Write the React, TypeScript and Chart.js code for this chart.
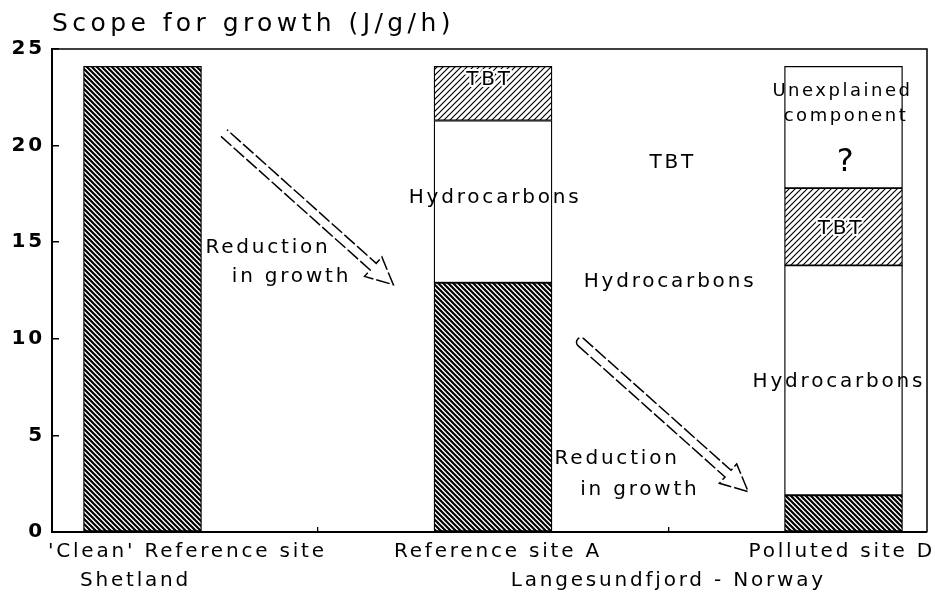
import React, { useEffect, useRef } from 'react';
import { Chart, registerables } from 'chart.js';

Chart.register(...registerables);

// ---- data ----
const categories = ["'Clean' Reference site", 'Reference site A', 'Polluted site D'];
const categoryX = [0, 1, 2];
const remainingGrowth = [24.1, 12.9, 1.9];
const hydrocarbons = [null, 8.4, 11.9];
const tbt = [null, 2.8, 4.0];
const unexplained = [null, null, 6.3];

const yMin = 0;
const yMax = 25;
const yStep = 5;

const xTickValues = [-0.02, 0.128, 0.5, 1.014, 1.5, 1.995];
const xTickLabels: (string | string[])[] = [
  ['', 'Shetland'],
  "'Clean' Reference site",
  '',
  'Reference site A',
  ['', 'Langesundfjord - Norway'],
  'Polluted site D',
];
const xTickMarks = [0.5, 1.5];

const titleText = 'Scope for growth (J/g/h)';

// annotation texts placed in data coordinates
const noteTexts = [
  'TBT', 'Hydrocarbons', 'TBT', 'Hydrocarbons', 'Unexplained', 'component', '?',
  'TBT', 'Hydrocarbons', 'Reduction', 'in growth', 'Reduction', 'in growth',
];
const noteX = [0.99, 1.006, 1.513, 1.505, 1.997, 2.007, 2.011, 1.993, 1.987, 0.358, 0.425, 1.354, 1.419];
const noteY = [23.4, 17.3, 19.1, 12.97, 22.8, 21.5, 19.1, 15.7, 7.8, 14.73, 13.2, 3.8, 2.18];
const noteSize = [20, 20, 20, 20, 18, 18, 32, 20, 20, 20, 20, 20, 20];
const noteKnockout = [true, false, false, false, false, false, false, true, false, false, false, false, false];

// arrows: start (x,y) -> tip (x,y) in data coordinates
const arrowStartX = [0.2325, 1.251];
const arrowStartY = [20.65, 9.82];
const arrowEndX = [0.7156, 1.728];
const arrowEndY = [12.8, 2.09];
const arrowClosedStart = [false, true];

const FONT = '"DejaVu Sans", "Liberation Sans", Arial, sans-serif';

function makeHatch(size: number, lw: number, dir: 'back' | 'fwd') {
  const c = document.createElement('canvas');
  c.width = size;
  c.height = size;
  const g = c.getContext('2d')!;
  g.fillStyle = '#fff';
  g.fillRect(0, 0, size, size);
  g.strokeStyle = '#000';
  g.lineWidth = lw;
  g.beginPath();
  for (const o of [-size, 0, size]) {
    if (dir === 'back') {
      g.moveTo(o - 1, -1);
      g.lineTo(o + size + 1, size + 1);
    } else {
      g.moveTo(o - 1, size + 1);
      g.lineTo(o + size + 1, -1);
    }
  }
  g.stroke();
  return g.createPattern(c, 'repeat')!;
}

function patchSpacing(ctx: any) {
  const sizeOf = () => {
    const m = /(\d+(?:\.\d+)?)px/.exec(ctx.font);
    return m ? parseFloat(m[1]) : 12;
  };
  ['fillText', 'strokeText', 'measureText'].forEach((name) => {
    const orig = ctx[name].bind(ctx);
    ctx[name] = (...args: any[]) => {
      const prev = ctx.letterSpacing;
      const s = sizeOf();
      const em = s >= 24 && s < 30 ? 0.177 : 0.14;
      ctx.letterSpacing = (s * em).toFixed(2) + 'px';
      try {
        return orig(...args);
      } finally {
        ctx.letterSpacing = prev;
      }
    };
  });
}

function drawArrow(ctx: CanvasRenderingContext2D, x0: number, y0: number, x1: number, y1: number, closed: boolean) {
  const dx = x1 - x0;
  const dy = y1 - y0;
  const len = Math.hypot(dx, dy);
  const ux = dx / len;
  const uy = dy / len;
  const nx = -uy;
  const ny = ux;
  const w = 4.5;
  const hw = 13;
  const hl = 27;
  const bx = x1 - ux * hl;
  const by = y1 - uy * hl;
  ctx.beginPath();
  ctx.moveTo(x0 + nx * w, y0 + ny * w);
  ctx.lineTo(bx + nx * w, by + ny * w);
  ctx.lineTo(bx + nx * hw, by + ny * hw);
  ctx.lineTo(x1, y1);
  ctx.lineTo(bx - nx * hw, by - ny * hw);
  ctx.lineTo(bx - nx * w, by - ny * w);
  ctx.lineTo(x0 - nx * w, y0 - ny * w);
  if (closed) {
    const a = Math.atan2(-ny, -nx);
    ctx.arc(x0, y0, w, a, a - Math.PI, true);
  }
  ctx.stroke();
}

const overlayPlugin = {
  id: 'overlay',
  afterDatasetsDraw(chart: any) {
    const { ctx, scales, chartArea } = chart;
    const xs = scales.x;
    const ys = scales.y;
    ctx.save();
    // frame top & right
    ctx.strokeStyle = '#000';
    ctx.lineWidth = 1.5;
    ctx.beginPath();
    ctx.moveTo(chartArea.left, chartArea.top);
    ctx.lineTo(chartArea.right, chartArea.top);
    ctx.lineTo(chartArea.right, chartArea.bottom);
    ctx.stroke();

    // arrows
    ctx.lineWidth = 1.5;
    ctx.setLineDash([14, 3]);
    for (let i = 0; i < arrowStartX.length; i++) {
      drawArrow(
        ctx,
        xs.getPixelForValue(arrowStartX[i]),
        ys.getPixelForValue(arrowStartY[i]),
        xs.getPixelForValue(arrowEndX[i]),
        ys.getPixelForValue(arrowEndY[i]),
        arrowClosedStart[i]
      );
    }
    ctx.setLineDash([]);

    // texts
    ctx.textAlign = 'center';
    ctx.textBaseline = 'middle';
    for (let i = 0; i < noteTexts.length; i++) {
      ctx.font = `${noteSize[i]}px ${FONT}`;
      const px = xs.getPixelForValue(noteX[i]);
      const py = ys.getPixelForValue(noteY[i]);
      if (noteKnockout[i]) {
        ctx.strokeStyle = '#fff';
        ctx.lineWidth = 4;
        ctx.lineJoin = 'round';
        ctx.strokeText(noteTexts[i], px, py);
      }
      ctx.fillStyle = '#000';
      ctx.fillText(noteTexts[i], px, py);
    }
    ctx.restore();
  },
};

export default function App() {
  const ref = useRef<HTMLCanvasElement | null>(null);

  useEffect(() => {
    document.body.style.margin = '0';
    const canvas = ref.current!;
    const ctx = canvas.getContext('2d')!;
    patchSpacing(ctx);

    const darkHatch = makeHatch(5, 2.2, 'back');
    const lightHatch = makeHatch(6, 1.2, 'fwd');

    const toPoints = (arr: (number | null)[]) => categoryX.map((x, i) => ({ x, y: arr[i] }));

    const common = {
      borderColor: '#000',
      borderWidth: 1.3,
      borderSkipped: false,
      barThickness: 118,
    };

    const chart = new Chart(ctx, {
      type: 'bar',
      data: {
        labels: categories,
        datasets: [
          { label: 'Remaining growth', data: toPoints(remainingGrowth) as any, backgroundColor: darkHatch as any, ...common },
          { label: 'Hydrocarbons', data: toPoints(hydrocarbons) as any, backgroundColor: '#fff', ...common },
          { label: 'TBT', data: toPoints(tbt) as any, backgroundColor: lightHatch as any, ...common },
          { label: 'Unexplained component', data: toPoints(unexplained) as any, backgroundColor: '#fff', ...common },
        ] as any,
      },
      options: {
        animation: false,
        responsive: false,
        devicePixelRatio: 1,
        layout: { padding: { left: 0, right: 8, top: 0, bottom: 0 } },
        plugins: {
          legend: { display: false },
          tooltip: { enabled: false },
          title: {
            display: true,
            text: titleText,
            align: 'start',
            fullSize: false,
            color: '#000',
            font: { family: FONT, size: 25, weight: 'normal' as any, lineHeight: 1.2 },
            padding: { top: 9, bottom: 10 },
          },
        },
        scales: {
          x: {
            type: 'linear',
            stacked: true,
            min: -0.2582,
            max: 2.2382,
            offset: false,
            afterBuildTicks: (s: any) => {
              s.ticks = xTickValues.map((v) => ({ value: v }));
            },
            afterFit: (s: any) => {
              s.paddingLeft = 0;
              s.paddingRight = 0;
            },
            ticks: {
              autoSkip: false,
              maxRotation: 0,
              minRotation: 0,
              padding: 10.5,
              color: '#000',
              font: { family: FONT, size: 20, lineHeight: 1.45 },
              callback: (_v: any, i: number) => xTickLabels[i] as any,
            },
            grid: {
              offset: false,
              drawOnChartArea: false,
              drawTicks: true,
              tickLength: -5,
              lineWidth: 1.3,
              tickColor: (c: any) =>
                c.tick && xTickMarks.includes(c.tick.value) ? '#000' : 'rgba(0,0,0,0)',
            },
            border: { display: true, color: '#000', width: 2 },
          } as any,
          y: {
            stacked: true,
            min: yMin,
            max: yMax,
            afterFit: (s: any) => {
              s.width = 52;
              s.paddingTop = 0;
              s.paddingBottom = 0;
            },
            ticks: {
              stepSize: yStep,
              padding: 14,
              color: '#000',
              font: { family: FONT, size: 20, weight: 'bold' as any },
            },
            grid: {
              drawOnChartArea: false,
              drawTicks: true,
              tickLength: -7,
              color: '#000',
              lineWidth: 1.5,
            },
            border: { display: true, color: '#000', width: 2 },
          } as any,
        },
      },
      plugins: [overlayPlugin],
    });

    return () => chart.destroy();
  }, []);

  return (
    <div style={{ width: 935, height: 606, background: '#fff' }}>
      <canvas ref={ref} width={935} height={606} style={{ display: 'block' }} />
    </div>
  );
}
